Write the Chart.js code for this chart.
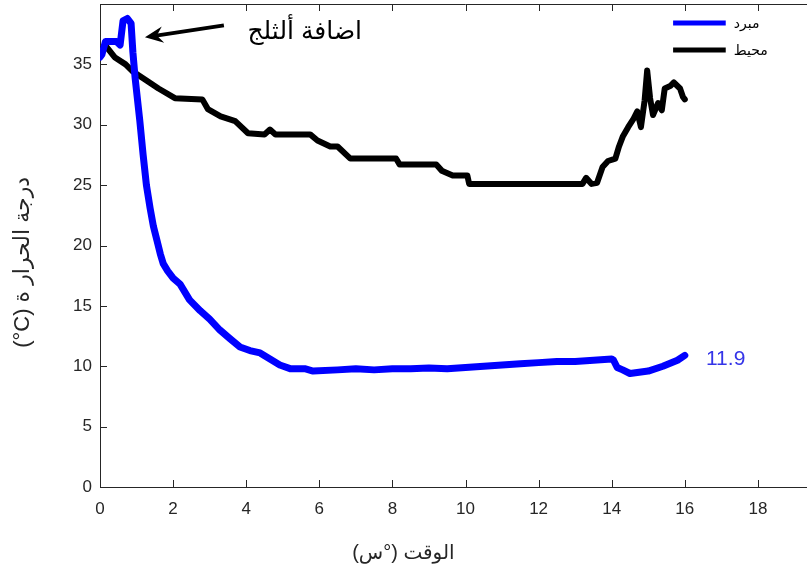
<!DOCTYPE html>
<html>
<head>
<meta charset="utf-8">
<script src="https://cdn.jsdelivr.net/npm/chart.js@4/dist/chart.umd.min.js"></script>
<style>
  html, body { margin: 0; padding: 0; background: #ffffff; overflow: hidden; }
  #wrap { position: absolute; left: 0; top: 0; width: 841px; height: 572px; }
</style>
</head>
<body>
<div id="wrap"><canvas id="c"></canvas></div>
<script>
// ---- data ----
const seriesLabels = ["مبرد", "محيط"];
const coolerX = [0,0.05,0.15,0.45,0.55,0.63,0.75,0.85,0.9,0.96,1.09,1.18,1.27,1.37,1.46,1.56,1.65,1.73,1.85,2.0,2.19,2.45,2.74,3.0,3.28,3.55,3.83,4.1,4.38,4.65,4.92,5.2,5.6,5.83,6.5,7,7.5,8,8.5,9,9.5,10,10.5,11,11.5,12,12.5,13,13.5,14.0,14.05,14.15,14.3,14.5,14.75,15.0,15.4,15.8,16.0];
const coolerY = [35.6,35.8,36.9,36.9,36.6,38.6,38.8,38.4,36,33.9,30.3,27.5,25.0,23.1,21.6,20.4,19.3,18.5,17.9,17.3,16.8,15.5,14.6,13.9,13.0,12.3,11.6,11.3,11.1,10.6,10.1,9.8,9.8,9.6,9.7,9.8,9.7,9.8,9.8,9.85,9.8,9.9,10.0,10.1,10.2,10.3,10.4,10.4,10.5,10.6,10.5,9.9,9.7,9.4,9.5,9.6,10.0,10.5,10.9];
const ambientX = [0,0.14,0.4,0.7,0.9,1.2,1.6,2.05,2.8,2.95,3.3,3.7,4.05,4.5,4.65,4.8,5.75,5.95,6.3,6.5,6.85,8.1,8.2,9.2,9.35,9.65,10.05,10.1,13.2,13.3,13.45,13.6,13.75,13.9,14.1,14.2,14.3,14.45,14.6,14.7,14.8,14.9,14.97,15.05,15.13,15.27,15.37,15.45,15.6,15.7,15.87,15.95,16.0];
const ambientY = [36,36.6,35.6,35,34.4,33.8,33,32.2,32.1,31.3,30.7,30.3,29.3,29.2,29.6,29.2,29.2,28.7,28.2,28.2,27.2,27.2,26.7,26.7,26.2,25.8,25.8,25.1,25.1,25.6,25.1,25.2,26.5,27,27.2,28.2,29,29.8,30.5,31.1,29.8,32,34.5,32.2,30.8,31.8,31.2,33,33.2,33.5,33,32.3,32.1];
const xTicks = [0,2,4,6,8,10,12,14,16,18,20];
const yTicks = [0,5,10,15,20,25,30,35,40];
const xTitle = "الوقت (°س)";
const yTitle = "(°C) درجة الحرار ة";
const noteText = "اضافة ألثلج";
const endLabel = "11.9";

const toPts = (xs, ys) => xs.map((x, i) => ({ x: x, y: ys[i] }));
const AX = '#262626';
const FONT = "'Liberation Sans', Arial, 'DejaVu Sans', sans-serif";

const decor = {
  id: 'decor',
  afterDraw(chart) {
    const ctx = chart.ctx;
    const xs = chart.scales.x, ys = chart.scales.y;
    const a = chart.chartArea;
    ctx.save();
    // top border
    ctx.strokeStyle = AX; ctx.lineWidth = 1;
    ctx.beginPath(); ctx.moveTo(a.left, a.top + 0.5); ctx.lineTo(a.right, a.top + 0.5); ctx.stroke();
    // inside tick marks
    const tl = 7;
    ctx.beginPath();
    xTicks.forEach(v => {
      const p = Math.round(xs.getPixelForValue(v)) + 0.5;
      ctx.moveTo(p, a.bottom); ctx.lineTo(p, a.bottom - tl);
      ctx.moveTo(p, a.top); ctx.lineTo(p, a.top + tl);
    });
    yTicks.forEach(v => {
      const p = Math.round(ys.getPixelForValue(v)) + 0.5;
      ctx.moveTo(a.left, p); ctx.lineTo(a.left + tl, p);
    });
    ctx.stroke();

    // axis titles
    ctx.fillStyle = AX;
    ctx.font = "20px " + FONT;
    ctx.textAlign = 'center'; ctx.textBaseline = 'middle';
    ctx.fillText(xTitle, xs.getPixelForValue(8.3), 553);
    ctx.save();
    ctx.font = "22px " + FONT;
    ctx.translate(23, ys.getPixelForValue(18.6));
    ctx.rotate(-Math.PI / 2);
    ctx.fillText(yTitle, 0, 0);
    ctx.restore();

    // annotation arrow
    const tipX = xs.getPixelForValue(1.23), tipY = ys.getPixelForValue(37.24);
    const tailX = xs.getPixelForValue(3.39), tailY = ys.getPixelForValue(38.23);
    const ang = Math.atan2(tipY - tailY, tipX - tailX);
    ctx.strokeStyle = '#000'; ctx.lineWidth = 4; ctx.lineCap = 'butt';
    ctx.beginPath(); ctx.moveTo(tailX, tailY); ctx.lineTo(tipX - 8 * Math.cos(ang), tipY - 8 * Math.sin(ang)); ctx.stroke();
    ctx.fillStyle = '#000';
    const hl = 20, hw = 0.42;
    ctx.beginPath();
    ctx.moveTo(tipX, tipY);
    ctx.lineTo(tipX - hl * Math.cos(ang - hw), tipY - hl * Math.sin(ang - hw));
    ctx.lineTo(tipX - 12 * Math.cos(ang), tipY - 12 * Math.sin(ang));
    ctx.lineTo(tipX - hl * Math.cos(ang + hw), tipY - hl * Math.sin(ang + hw));
    ctx.closePath(); ctx.fill();

    // annotation text
    ctx.font = "25px " + FONT;
    ctx.textAlign = 'right'; ctx.textBaseline = 'middle';
    ctx.fillStyle = '#000';
    ctx.fillText(noteText, xs.getPixelForValue(7.17), ys.getPixelForValue(37.7));

    // end value label
    ctx.font = "21px " + FONT;
    ctx.textAlign = 'left';
    ctx.fillStyle = '#3535e8';
    ctx.fillText(endLabel, xs.getPixelForValue(16.58), ys.getPixelForValue(10.6));

    // legend
    const items = chart.data.datasets;
    const lx0 = xs.getPixelForValue(15.68), lx1 = xs.getPixelForValue(17.12);
    const legY = [23, 50];
    items.forEach((ds, i) => {
      ctx.strokeStyle = ds.borderColor; ctx.lineWidth = 5; ctx.lineCap = 'butt';
      ctx.beginPath(); ctx.moveTo(lx0, legY[i]); ctx.lineTo(lx1, legY[i]); ctx.stroke();
      ctx.fillStyle = '#000';
      ctx.font = "14px " + FONT;
      ctx.textAlign = 'left'; ctx.textBaseline = 'middle';
      ctx.fillText(ds.label, lx1 + 8, legY[i] + 1);
    });
    ctx.restore();
  }
};

new Chart(document.getElementById('c'), {
  type: 'line',
  data: {
    datasets: [
      { label: seriesLabels[0], data: toPts(coolerX, coolerY), borderColor: '#0000ff', borderWidth: 7,
        pointRadius: 0, borderCapStyle: 'round', borderJoinStyle: 'round', tension: 0, fill: false },
      { label: seriesLabels[1], data: toPts(ambientX, ambientY), borderColor: '#000000', borderWidth: 6,
        pointRadius: 0, borderCapStyle: 'round', borderJoinStyle: 'round', tension: 0, fill: false }
    ]
  },
  options: {
    responsive: true,
    maintainAspectRatio: false,
    animation: false,
    events: [],
    layout: { padding: { left: 0, top: 4, right: 10, bottom: 0 } },
    plugins: { legend: { display: false }, tooltip: { enabled: false } },
    scales: {
      x: {
        type: 'linear', min: 0, max: 20,
        afterBuildTicks: s => { s.ticks = xTicks.map(v => ({ value: v })); },
        afterFit: s => { s.height = 85; s.paddingLeft = 0; s.paddingRight = 0; },
        ticks: { color: AX, font: { size: 17, family: FONT }, padding: 12, maxRotation: 0, autoSkip: false },
        grid: { drawOnChartArea: false, drawTicks: false },
        border: { display: true, color: AX, width: 1 }
      },
      y: {
        type: 'linear', min: 0, max: 40,
        afterBuildTicks: s => { s.ticks = yTicks.map(v => ({ value: v })); },
        afterFit: s => { s.width = 100; s.paddingTop = 0; s.paddingBottom = 0; },
        ticks: { color: AX, font: { size: 17, family: FONT }, padding: 8, autoSkip: false,
                 callback: v => (v === 40 ? '' : String(v)) },
        grid: { drawOnChartArea: false, drawTicks: false },
        border: { display: true, color: AX, width: 1 }
      }
    }
  },
  plugins: [decor]
});
</script>
</body>
</html>
